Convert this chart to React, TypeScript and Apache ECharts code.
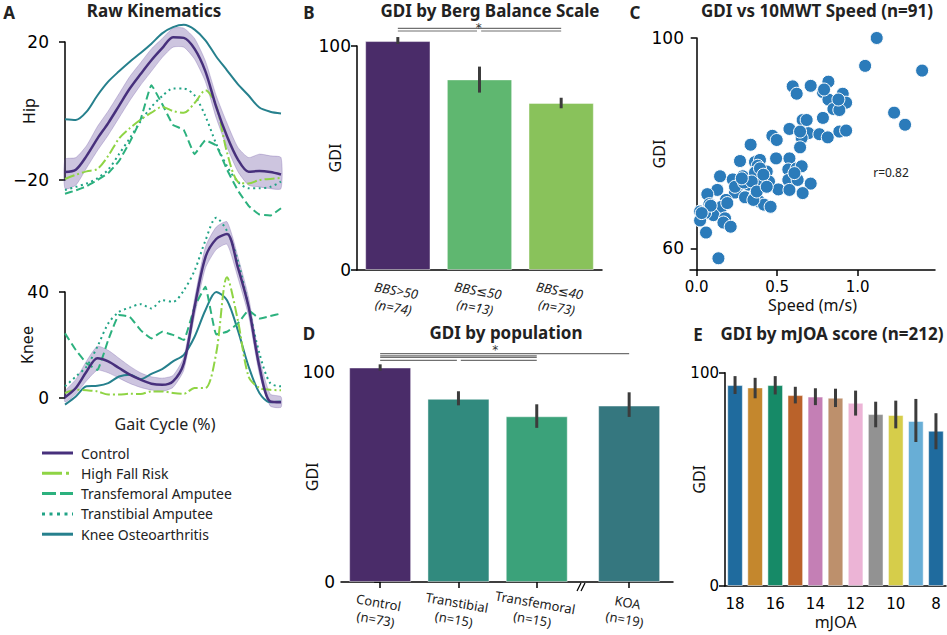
import React, { useEffect, useRef } from "react";
import * as echarts from "echarts";

const FONT = "'Noto Sans', 'DejaVu Sans', sans-serif";
const TICKFONT = "'DejaVu Sans', sans-serif";

// ---------- Panel A: gait kinematics (0..100 % gait cycle, 5 % steps) ----------
const gaitPct = [0, 5, 10, 15, 20, 25, 30, 35, 40, 45, 50, 55, 60, 65, 70, 75, 80, 85, 90, 95, 100];

const hipControl = [-17.7, -17.0, -13.0, -8.0, -3.5, 1.5, 6.5, 10.7, 14.7, 18.2, 21.4, 21.2, 18.0, 11.5, 1.2, -7.3, -14.0, -17.6, -17.4, -17.7, -18.4];
const hipControlUpper = [-14, -13.5, -10, -4.5, 0, 5, 10, 14, 18, 21, 24, 24, 21, 14.5, 4.5, -3.5, -10.5, -13.5, -12.5, -13, -13.5];
const hipControlLower = [-22.5, -21.5, -16.5, -11.5, -7, -2, 3, 7.5, 11.5, 15.5, 18.5, 18.5, 15, 8.5, -2, -10.5, -17.5, -21.5, -22, -22.5, -22.5];
const hipFallRisk = [-19.7, -18.5, -17.5, -16.8, -13, -8, -5, -2.5, -0.5, 1.2, 0, -0.5, 2.3, 6.0, 1.5, -12, -20.5, -21, -20, -19.7, -19.4];
const hipTransfemoral = [-24, -23, -21.8, -20, -18, -14.5, -9, -2.5, 7.5, 2, -4, -5.5, -12.5, -8.5, -10, -17, -23, -27.5, -30, -30.3, -28.2];
const hipTranstibial = [-22.9, -22.0, -21.0, -19.5, -17, -12.5, -7.9, -3, 1.2, 4.3, 6.5, 6.5, 4.5, -1.5, -9.5, -16, -20.5, -22.4, -22.4, -22, -20.5];
const hipKneeOA = [-2.4, -2.6, -0.2, 4.5, 8.5, 11.5, 14.3, 16.8, 19.5, 22.5, 24.3, 25.0, 23.6, 20.5, 15.8, 11.8, 7.8, 4.5, 1.0, -0.2, -0.7];

const kneeControl = [0.3, 3.8, 10.0, 15.0, 13.8, 11.3, 8.8, 6.9, 5.4, 5.0, 6.3, 13.1, 34.4, 53.1, 60.0, 61.9, 49.4, 34.4, 11.9, -1.3, -1.6];
const kneeControlUpper = [2.5, 7, 14, 19.5, 18, 15, 12, 9.5, 8, 7.5, 8.5, 15.5, 37.5, 57, 64.5, 66.5, 53.5, 38, 15, 1.5, 0.5];
const kneeControlLower = [-1.5, 1.5, 6.5, 10.5, 9.5, 7.5, 5.5, 4, 3, 2.5, 4, 10.5, 31, 49, 56, 58, 45.5, 31, 9, -3, -3.5];
const kneeFallRisk = [1.9, 3.1, 2.9, 2.5, 1.3, 1.3, 1.6, 1.5, 2.5, 2.5, 1.9, 1.6, 3.8, 3.8, 16.9, 45.6, 29.4, 8.1, 3.8, 3.1, 2.9];
const kneeTransfemoral = [24.4, 18.1, 13.1, 10.6, 21.9, 31.3, 30.6, 25.6, 22.5, 25.0, 23.8, 21.9, 34.4, 42, 24, 25, 28.1, 33.1, 30.0, 30.9, 31.9];
const kneeTranstibial = [4.4, 8.1, 11.9, 19.4, 28.1, 32.5, 34.1, 35.4, 33.8, 36.9, 36.3, 40.6, 48.1, 59.4, 68, 63, 51.9, 34.4, 16.9, 5.6, 4.4];
const kneeKneeOA = [-2.5, 0.6, 4.4, 4.6, 5.6, 8.1, 8.8, 7.1, 9.1, 10.9, 13.8, 16.3, 23.1, 33.1, 40.0, 36.9, 25.6, 11.9, 1.9, -1.6, -1.3];

const groupNames = ["Control", "High Fall Risk", "Transfemoral Amputee", "Transtibial Amputee", "Knee Osteoarthritis"];
const groupColors = ["#47307c", "#8fd444", "#2cb17e", "#21a386", "#26808d"];

// ---------- Panel B ----------
const bbsCats = ["BBS>50", "BBS\u226450", "BBS\u226440"];
const bbsN = [74, 13, 73];
const bbsMean = [102.2, 85.1, 74.6];
const bbsLow = [100.9, 79.2, 72.2];
const bbsHigh = [104.0, 90.8, 76.9];
const bbsColors = ["#4a2c69", "#5fb770", "#89c25b"];

// ---------- Panel C ----------
const speedGdi = [
  [1.118, 100], [1.046, 94.7], [1.40, 93.8], [1.226, 85.8], [1.294, 83.5],
  [0.818, 91.7], [0.708, 90.9], [0.596, 90.8], [0.621, 89.4], [0.784, 89.7],
  [0.818, 88.3], [0.907, 89.4], [0.894, 87.9], [0.928, 87.7], [0.849, 86.5],
  [0.886, 86.3], [0.658, 84.4], [0.784, 84.8], [0.576, 82.7], [0.694, 81.9],
  [0.652, 81.0], [0.762, 81.7], [0.814, 81.1], [0.886, 82.2], [0.928, 82.4],
  [0.470, 81.4], [0.497, 80.6], [0.335, 79.7], [0.642, 79.2], [0.576, 77.1],
  [0.493, 77.1], [0.269, 76.6], [0.362, 76.4], [0.393, 76.8], [0.379, 75.7],
  [0.435, 74.6], [0.569, 75.0], [0.621, 75.2], [0.652, 75.6], [0.145, 73.7],
  [0.224, 73.1], [0.286, 73.7], [0.362, 73.7], [0.402, 72.4], [0.449, 72.7],
  [0.569, 73.0], [0.627, 73.0], [0.708, 72.3], [0.248, 71.4], [0.321, 72.1],
  [0.238, 70.6], [0.507, 71.2], [0.576, 71.1], [0.658, 70.5], [0.128, 71.1],
  [0.066, 70.3], [0.300, 69.7], [0.360, 69.7], [0.389, 68.9], [0.418, 68.3],
  [0.459, 67.9], [0.182, 69.2], [0.155, 67.9], [0.079, 68.4], [0.104, 66.3],
  [0.021, 67.0], [0.052, 66.7], [0.021, 65.3], [0.176, 65.7], [0.166, 64.9],
  [0.211, 64.1], [0.058, 63.0], [0.135, 58.1], [0.362, 74.4], [0.393, 75.2],
  [0.238, 71.7], [0.294, 72.5], [0.342, 72.7], [0.414, 74.0], [0.352, 69.2],
  [0.190, 68.6], [0.087, 68.1], [0.031, 66.7], [0.607, 74.3], [0.642, 82.2],
  [0.683, 84.4], [0.880, 88.3], [0.791, 90.2], [0.280, 73.3], [0.373, 70.8],
  [0.435, 71.7],
];
const speedTicks = [0, 0.5, 1.0];
const gdiTicksC = [60, 100];

// ---------- Panel D ----------
const popCats = ["Control", "Transtibial", "Transfemoral", "KOA"];
const popN = [73, 15, 15, 19];
const popMean = [102.0, 87.1, 78.8, 83.9];
const popLow = [100.5, 84.0, 73.3, 78.5];
const popHigh = [103.5, 90.7, 84.5, 90.2];
const popColors = ["#4a2c69", "#318a7e", "#3ba27a", "#35777f"];

// ---------- Panel E ----------
const mjoaCats = ["18", "17", "16", "15", "14", "13", "12", "11", "10", "9", "8"];
const mjoaMean = [94.2, 93.1, 94.2, 89.5, 88.8, 88.3, 85.9, 80.6, 80.2, 77.4, 72.8];
const mjoaLow = [90.0, 88.0, 89.8, 85.6, 84.8, 83.9, 79.9, 74.4, 73.9, 67.5, 64.1];
const mjoaHigh = [98.4, 97.6, 98.4, 93.4, 92.7, 92.5, 91.6, 86.4, 86.9, 87.7, 81.0];
const mjoaColors = ["#1f6b9e", "#c4872d", "#168a67", "#ba622a", "#c47fb5", "#bd906c", "#ecb4d6", "#929292", "#d6cd4a", "#68aed6", "#1f6b9e"];

const lineDashes: any[] = ["solid", [10, 3, 2, 3], [8, 4], [2, 3.5], "solid"];
const legendDashes: any[] = [null, [20, 4, 3, 4], [14, 4], [3, 4.5], null];

const axisLineStyle = { lineStyle: { color: "#000", width: 1.5 } };
const axisTickStyle = { length: 6, lineStyle: { color: "#000", width: 1.5 } };
const yLabel = { color: "#000", fontSize: 17, fontFamily: TICKFONT, margin: 6 };
const nameStyle = { color: "#111", fontSize: 16, fontFamily: FONT };

function minusFmt(v: number) {
  return v < 0 ? "\u2212" + Math.abs(v) : String(v);
}

function xAt(api: any, v: number, y: number) {
  const a = api.coord([0, y]);
  const b = api.coord([1, y]);
  return [a[0] + v * (b[0] - a[0]), a[1]];
}

function errorSeries(xi: number, xs: number[], low: number[], high: number[]) {
  return {
    type: "custom",
    xAxisIndex: xi,
    yAxisIndex: xi,
    clip: false,
    silent: true,
    z: 5,
    data: xs.map((x, i) => [x, low[i], high[i]]),
    encode: { x: 0, y: [1, 2] },
    renderItem: (params: any, api: any) => {
      const x = api.value(0);
      const p1 = api.coord([x, api.value(1)]);
      const p2 = api.coord([x, api.value(2)]);
      return {
        type: "line",
        shape: { x1: p1[0], y1: p1[1], x2: p2[0], y2: p2[1] },
        style: { stroke: "#3c3c3c", lineWidth: 3 },
      };
    },
  };
}

function sigSeries(xi: number, segs: number[][], star: number[]) {
  return {
    type: "custom",
    xAxisIndex: xi,
    yAxisIndex: xi,
    clip: false,
    silent: true,
    z: 5,
    data: segs,
    encode: { x: [0, 1], y: 2 },
    renderItem: (params: any, api: any) => {
      const y = api.value(2);
      const p1 = xAt(api, api.value(0), y);
      const p2 = xAt(api, api.value(1), y);
      const children: any[] = [
        {
          type: "line",
          shape: { x1: p1[0], y1: p1[1], x2: p2[0], y2: p2[1] },
          style: { stroke: "#707070", lineWidth: 1.2 },
        },
      ];
      if (params.dataIndex === 0) {
        const s = xAt(api, star[0], star[1]);
        children.push({
          type: "text",
          x: s[0],
          y: s[1],
          style: { text: "*", fill: "#333", fontSize: 12, fontFamily: TICKFONT, align: "center", verticalAlign: "top" },
        });
      }
      return { type: "group", children };
    },
  };
}

function bandSeries(idx: number, upper: number[], lower: number[]) {
  return {
    type: "custom",
    xAxisIndex: idx,
    yAxisIndex: idx,
    clip: false,
    silent: true,
    z: 1,
    data: gaitPct.map((p, i) => [p, lower[i], upper[i]]),
    encode: { x: 0, y: [1, 2] },
    renderItem: (params: any, api: any) => {
      if (params.dataIndex !== 0) return null;
      const top = gaitPct.map((p, i) => api.coord([p, upper[i]]));
      const bot = gaitPct.map((p, i) => api.coord([p, lower[i]])).reverse();
      return {
        type: "polygon",
        shape: { points: top.concat(bot), smooth: 0.2 },
        style: { fill: "rgba(90,62,150,0.30)", stroke: "rgba(90,62,150,0.25)", lineWidth: 1 },
      };
    },
  };
}

function kinLines(idx: number, arrs: number[][]) {
  const order = [4, 3, 2, 1, 0];
  return order.map((g) => ({
    type: "line",
    name: groupNames[g],
    xAxisIndex: idx,
    yAxisIndex: idx,
    clip: false,
    silent: true,
    showSymbol: false,
    symbol: "none",
    smooth: g === 2 ? 0.1 : 0.3,
    z: 3 + (g === 0 ? 2 : 0),
    data: gaitPct.map((p, i) => [p, arrs[g][i]]),
    lineStyle: { color: groupColors[g], width: g === 0 ? 2.5 : 2, type: lineDashes[g] },
  }));
}

const popPos = popCats.map((_, i) => i + (i >= 3 ? 0.18 : 0));

function yAxisBase(grid: number, name: string, gap: number) {
  return {
    type: "value",
    gridIndex: grid,
    splitLine: { show: false },
    axisLine: { show: true, ...axisLineStyle },
    axisTick: { show: true, ...axisTickStyle },
    axisLabel: yLabel,
    name,
    nameLocation: "middle",
    nameGap: gap,
    nameMoveOverlap: false,
    nameTextStyle: nameStyle,
  };
}

function buildOption() {
  const legendY0 = 453;
  const legendStep = 20.3;
  const graphic: any[] = [];
  const title = (x: number, y: number, text: string, size = 17) =>
    graphic.push({
      type: "text",
      x,
      y,
      style: { text, fill: "#222", fontSize: size, fontWeight: "bold", fontFamily: FONT, align: "center", verticalAlign: "middle" },
    });
  title(9, 12, "A", 17);
  title(154, 10.5, "Raw Kinematics");
  title(309, 12, "B", 17);
  title(490, 10.5, "GDI by Berg Balance Scale");
  title(635, 12, "C", 17);
  title(817, 10.5, "GDI vs 10MWT Speed (n=91)");
  title(309, 333, "D", 17);
  title(506, 332, "GDI by population");
  title(698, 334, "E", 17);
  title(832, 333, "GDI by mJOA score (n=212)");
  graphic.push({
    type: "text",
    x: 165,
    y: 424,
    style: { text: "Gait Cycle (%)", fill: "#222", fontSize: 16, fontFamily: FONT, align: "center", verticalAlign: "middle" },
  });
  graphic.push({
    type: "text",
    x: 891,
    y: 172,
    style: { text: "r=0.82", fill: "#222", fontSize: 12, fontFamily: FONT, align: "center", verticalAlign: "middle" },
  });
  groupNames.forEach((name, g) => {
    const y = legendY0 + g * legendStep;
    graphic.push({
      type: "line",
      shape: { x1: 42, y1: y, x2: 73, y2: y },
      style: { stroke: groupColors[g], lineWidth: 3, lineDash: legendDashes[g] || undefined },
    });
    graphic.push({
      type: "text",
      x: 81,
      y,
      style: { text: name, fill: "#222", fontSize: 14, fontFamily: FONT, align: "left", verticalAlign: "middle" },
    });
  });
  // axis break marker in panel D
  graphic.push({ type: "line", shape: { x1: 577, y1: 591, x2: 581, y2: 583 }, style: { stroke: "#000", lineWidth: 1.2 } });
  graphic.push({ type: "line", shape: { x1: 581, y1: 591, x2: 585, y2: 583 }, style: { stroke: "#000", lineWidth: 1.2 } });

  const hipArrs = [hipControl, hipFallRisk, hipTransfemoral, hipTranstibial, hipKneeOA];
  const kneeArrs = [kneeControl, kneeFallRisk, kneeTransfemoral, kneeTranstibial, kneeKneeOA];

  return {
    animation: false,
    backgroundColor: "#fff",
    textStyle: { fontFamily: FONT },
    grid: [
      { left: 65, top: 42, width: 216, height: 138 },
      { left: 65, top: 292, width: 216, height: 106 },
      { left: 357, top: 46, width: 245, height: 224 },
      { left: 690, top: 38, width: 245, height: 232 },
      { left: 341, top: 371.7, width: 332, height: 215 },
      { left: 725, top: 372.7, width: 221, height: 213.3 },
    ],
    xAxis: [
      { type: "value", gridIndex: 0, min: 0, max: 100, show: false },
      { type: "value", gridIndex: 1, min: 0, max: 100, show: false },
      {
        type: "category",
        gridIndex: 2,
        data: bbsCats.map((c, i) => c + "\n(n=" + bbsN[i] + ")"),
        axisLine: axisLineStyle,
        axisTick: { ...axisTickStyle, alignWithLabel: true },
        axisLabel: {
          color: "#222",
          fontSize: 13,
          fontStyle: "italic",
          fontFamily: FONT,
          rotate: -10,
          align: "center",
          verticalAlign: "top",
          margin: 12,
          lineHeight: 17,
        },
      },
      {
        type: "value",
        gridIndex: 3,
        min: -0.0416,
        max: 1.48,
        splitLine: { show: false },
        axisLine: axisLineStyle,
        axisTick: { ...axisTickStyle, customValues: speedTicks },
        axisLabel: { color: "#000", fontSize: 15, fontFamily: TICKFONT, margin: 9, customValues: speedTicks, formatter: (v: number) => v.toFixed(1) },
        name: "Speed (m/s)",
        nameLocation: "middle",
        nameGap: 27,
        nameMoveOverlap: false,
        nameTextStyle: nameStyle,
      },
      {
        type: "value",
        gridIndex: 4,
        min: -0.5,
        max: 3.74,
        splitLine: { show: false },
        axisLine: axisLineStyle,
        axisTick: { ...axisTickStyle, customValues: popPos },
        axisLabel: {
          color: "#222",
          fontSize: 13,
          fontFamily: FONT,
          rotate: -10,
          align: "center",
          verticalAlign: "top",
          margin: 12,
          lineHeight: 17,
          customValues: popPos,
          formatter: (v: number) => {
            const i = popPos.findIndex((p) => Math.abs(p - v) < 1e-6);
            return i < 0 ? "" : popCats[i] + "\n(n=" + popN[i] + ")";
          },
        },
      },
      {
        type: "category",
        gridIndex: 5,
        data: mjoaCats,
        axisLine: axisLineStyle,
        axisTick: { ...axisTickStyle, alignWithLabel: true, interval: 0 },
        axisLabel: { color: "#000", fontSize: 15, fontFamily: TICKFONT, margin: 10, interval: 1 },
        name: "mJOA",
        nameLocation: "middle",
        nameGap: 28,
        nameMoveOverlap: false,
        nameTextStyle: nameStyle,
      },
    ],
    yAxis: [
      { ...yAxisBase(0, "Hip", 18), min: -20, max: 20, interval: 40, offset: 10, axisLabel: { ...yLabel, formatter: minusFmt } },
      { ...yAxisBase(1, "Knee", 20), min: 0, max: 40, interval: 40, offset: 10 },
      { ...yAxisBase(2, "GDI", 14), min: 0, max: 100, interval: 100 },
      {
        ...yAxisBase(3, "GDI", 23),
        min: 55.87,
        max: 100,
        axisTick: { show: true, ...axisTickStyle, customValues: gdiTicksC },
        axisLabel: { ...yLabel, customValues: gdiTicksC },
      },
      { ...yAxisBase(4, "GDI", 21), min: 0, max: 100, interval: 100 },
      { ...yAxisBase(5, "GDI", 18), min: 0, max: 100, interval: 100, axisLabel: { ...yLabel, fontSize: 15 } },
    ],
    series: [
      bandSeries(0, hipControlUpper, hipControlLower),
      ...kinLines(0, hipArrs),
      bandSeries(1, kneeControlUpper, kneeControlLower),
      ...kinLines(1, kneeArrs),
      {
        type: "bar",
        xAxisIndex: 2,
        yAxisIndex: 2,
        clip: false,
        barWidth: "80%",
        silent: true,
        data: bbsMean.map((v, i) => ({ value: v, itemStyle: { color: bbsColors[i], borderColor: "rgba(255,255,255,0.45)", borderWidth: 1 } })),
      },
      errorSeries(2, bbsMean.map((_, i) => i), bbsLow, bbsHigh),
      sigSeries(2, [[0, 2, 107.9], [0, 0.97, 106.7], [1.02, 2, 106.7]], [0.99, 110.5]),
      {
        type: "scatter",
        xAxisIndex: 3,
        yAxisIndex: 3,
        clip: false,
        silent: true,
        symbolSize: 13,
        data: speedGdi,
        itemStyle: { color: "#2b7bba", borderColor: "#fff", borderWidth: 1, opacity: 1 },
      },
      {
        type: "bar",
        xAxisIndex: 4,
        yAxisIndex: 4,
        clip: false,
        barWidth: 62,
        silent: true,
        data: popMean.map((v, i) => ({ value: [popPos[i], v], itemStyle: { color: popColors[i], borderColor: "rgba(255,255,255,0.45)", borderWidth: 1 } })),
      },
      errorSeries(4, popPos, popLow, popHigh),
      sigSeries(4, [[0, popPos[3], 108.6], [0, 2, 107.5], [0, 2, 106.8], [0, 0.98, 105.4], [1.03, 2, 105.4]], [1.47, 113.2]),
      {
        type: "bar",
        xAxisIndex: 5,
        yAxisIndex: 5,
        clip: false,
        barWidth: "78%",
        silent: true,
        data: mjoaMean.map((v, i) => ({ value: v, itemStyle: { color: mjoaColors[i], borderColor: "rgba(255,255,255,0.5)", borderWidth: 1 } })),
      },
      errorSeries(5, mjoaMean.map((_, i) => i), mjoaLow, mjoaHigh),
    ],
    graphic,
  };
}

export default function App() {
  const ref = useRef<HTMLDivElement>(null);
  useEffect(() => {
    if (!ref.current) return;
    const chart = echarts.init(ref.current, undefined, { renderer: "svg" });
    chart.setOption(buildOption() as any);
    return () => chart.dispose();
  }, []);
  return <div ref={ref} style={{ position: "fixed", left: 0, top: 0, width: 947, height: 635, background: "#fff" }} />;
}
